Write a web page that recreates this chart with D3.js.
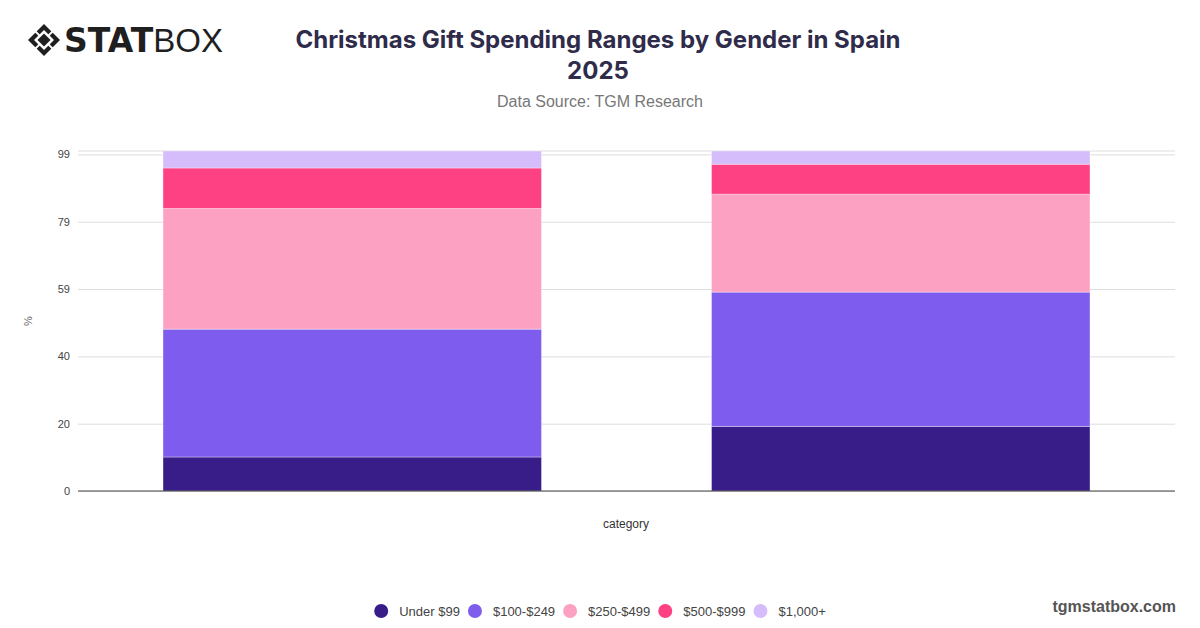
<!DOCTYPE html>
<html>
<head>
<meta charset="utf-8">
<script src="https://cdn.jsdelivr.net/npm/d3@7"></script>
<style>
  body { margin: 0; background: #fff; }
  svg { display: block; font-family: "Liberation Sans", Arial, sans-serif; }
</style>
</head>
<body>
<svg id="chart" width="1200" height="628"></svg>
<script>
"use strict";

// data (share of respondents, %)
let categories = ["Male", "Female"];
let ranges = ["Under $99", "$100-$249", "$250-$499", "$500-$999", "$1,000+"];
let under99 = [10, 19];
let r100to249 = [37.6, 39.5];
let r250to499 = [35.5, 28.8];
let r500to999 = [11.9, 8.8];
let over1000 = [5, 3.9];
let yTicks = [0, 19.8, 39.6, 59.4, 79.2, 99];
let colors = ["#381c87", "#7e5dee", "#fda1c3", "#fe4182", "#d5bcfa"];

let svg = d3.select("#chart");

// plot box
let plotLeft = 78, plotRight = 1175, plotTop = 151, plotBottom = 491;

// build rows for d3.stack
let series = [under99, r100to249, r250to499, r500to999, over1000];
let rows = categories.map((c, i) => {
  let row = { category: c };
  ranges.forEach((r, j) => { row[r] = series[j][i]; });
  return row;
});
let stacked = d3.stack().keys(ranges)(rows);

let x = d3.scaleBand()
  .domain(categories)
  .range([plotLeft, plotRight])
  .paddingInner(0.31)
  .paddingOuter(0.155);

let y = d3.scaleLinear()
  .domain([0, 100])
  .range([plotBottom, plotTop]);

let color = d3.scaleOrdinal().domain(ranges).range(colors);

// logo
let logo = svg.append("g").attr("transform", "translate(44,40)");
logo.append("path")
  .attr("d", "M0,-16 L16,0 L0,16 L-16,0 Z")
  .attr("fill", "#1f1f1f");
logo.append("path")
  .attr("d", "M0,-10 L10,0 L0,10 L-10,0 Z")
  .attr("fill", "#fff");
logo.append("path")
  .attr("d", "M0,-6.5 L6.5,0 L0,6.5 L-6.5,0 Z")
  .attr("fill", "#1f1f1f");
[[-8, -8], [8, -8], [8, 8], [-8, 8]].forEach(p => {
  logo.append("line")
    .attr("x1", p[0] * 0.55).attr("y1", p[1] * 0.55)
    .attr("x2", p[0] * 1.3).attr("y2", p[1] * 1.3)
    .attr("stroke", "#fff").attr("stroke-width", 2);
});
let logoText = svg.append("text")
  .attr("x", 64)
  .attr("y", 52)
  .attr("fill", "#1f1f1f")
  .style("font-size", "33px")
  .style("font-family", "'DejaVu Sans', sans-serif");
logoText.append("tspan").style("font-weight", "900").text("STAT");
logoText.append("tspan").style("font-weight", "200")
  .style("font-family", "'Liberation Sans', Arial, sans-serif").text("BOX");

// title block
svg.append("text")
  .attr("x", 598).attr("y", 48)
  .attr("text-anchor", "middle")
  .attr("fill", "#2f2b4a")
  .style("font-family", "Inter, 'Liberation Sans', sans-serif")
  .style("font-weight", "700")
  .style("font-size", "24px")
  .text("Christmas Gift Spending Ranges by Gender in Spain");
svg.append("text")
  .attr("x", 598).attr("y", 79)
  .attr("text-anchor", "middle")
  .attr("fill", "#2f2b4a")
  .style("font-family", "Inter, 'Liberation Sans', sans-serif")
  .style("font-weight", "700")
  .style("font-size", "24px")
  .text("2025");
svg.append("text")
  .attr("x", 600).attr("y", 107)
  .attr("text-anchor", "middle")
  .attr("fill", "#777")
  .style("font-size", "16px")
  .text("Data Source: TGM Research");

// gridlines + y tick labels
let yAxis = svg.append("g")
  .attr("transform", `translate(${plotLeft},0)`)
  .call(d3.axisLeft(y)
    .tickValues(yTicks)
    .tickSize(-(plotRight - plotLeft))
    .tickPadding(8)
    .tickFormat(d => Math.round(d)));
yAxis.select(".domain").remove();
yAxis.selectAll(".tick line").attr("stroke", "#ddd");
yAxis.selectAll(".tick text")
  .attr("fill", "#444")
  .style("font-size", "11px");

// top border line of plot
svg.append("line")
  .attr("x1", plotLeft).attr("x2", plotRight)
  .attr("y1", y(100)).attr("y2", y(100))
  .attr("stroke", "#ddd");

// stacked bars
svg.append("g")
  .selectAll("g")
  .data(stacked)
  .join("g")
  .attr("fill", d => color(d.key))
  .selectAll("rect")
  .data(d => d)
  .join("rect")
  .attr("x", d => x(d.data.category))
  .attr("width", x.bandwidth())
  .attr("y", d => y(d[1]))
  .attr("height", d => y(d[0]) - y(d[1]))
  .attr("stroke", "#fff")
  .attr("stroke-opacity", 0.35)
  .attr("stroke-width", 1);

// x axis baseline
svg.append("line")
  .attr("x1", plotLeft).attr("x2", plotRight)
  .attr("y1", y(0)).attr("y2", y(0))
  .attr("stroke", "#444")
  .attr("stroke-width", 1.2);

// axis titles
svg.append("text")
  .attr("x", 626).attr("y", 528)
  .attr("text-anchor", "middle")
  .attr("fill", "#333")
  .style("font-size", "12px")
  .text("category");
svg.append("text")
  .attr("transform", "rotate(-90)")
  .attr("x", -321).attr("y", 32)
  .attr("text-anchor", "middle")
  .attr("fill", "#666")
  .style("font-size", "11px")
  .text("%");

// legend, centred
let legend = svg.append("g");
let lx = 0;
ranges.forEach((r, i) => {
  let g = legend.append("g").attr("transform", `translate(${lx},0)`);
  g.append("circle").attr("cx", 7).attr("cy", 0).attr("r", 7).attr("fill", color(r));
  let t = g.append("text")
    .attr("x", 25).attr("y", 5)
    .attr("fill", "#444")
    .style("font-size", "13px")
    .text(r);
  lx += 25 + t.node().getComputedTextLength() + 8;
});
let legendWidth = lx - 8;
legend.attr("transform", `translate(${600 - legendWidth / 2},611)`);

// footer
svg.append("text")
  .attr("x", 1176).attr("y", 612)
  .attr("text-anchor", "end")
  .attr("fill", "#555")
  .style("font-weight", "700")
  .style("font-size", "16px")
  .text("tgmstatbox.com");
</script>
</body>
</html>
